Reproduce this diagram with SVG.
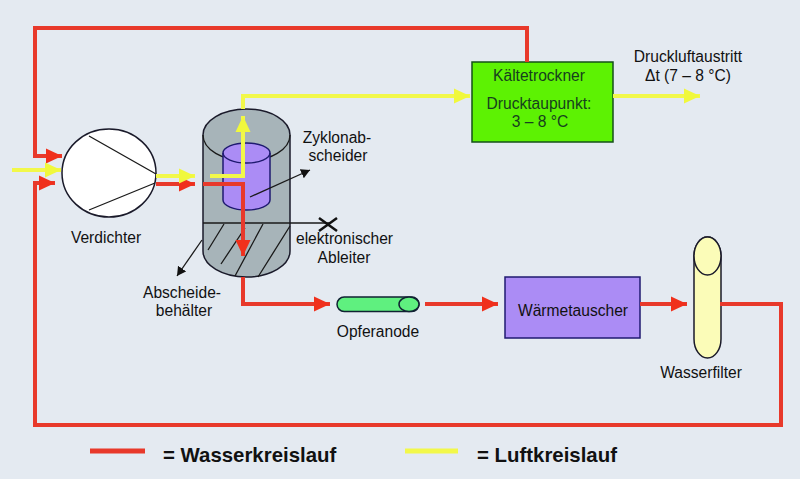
<svg xmlns="http://www.w3.org/2000/svg" width="800" height="479" viewBox="0 0 800 479">
<style>
text{font-family:"Liberation Sans",Arial,sans-serif;font-size:15.600px;fill:#111;text-anchor:middle}
.s{stroke:#1a1a2a;stroke-width:1.5}
.r{fill:none;stroke:#e8392b;stroke-width:4}
.y{fill:none;stroke:#f2f84a;stroke-width:4}
.t{fill:none;stroke:#1a1a1a;stroke-width:1.3}
.g{fill:#163f1e}
.b{font-size:20.400px;font-weight:bold;text-anchor:start}
</style>
<defs>
<marker id="ar" markerUnits="userSpaceOnUse" markerWidth="17" markerHeight="17" refX="16" refY="8.500" orient="auto"><path d="M0,1L16,8.500L0,16Z" fill="#f0301c"/></marker>
<marker id="ay" markerUnits="userSpaceOnUse" markerWidth="17" markerHeight="17" refX="16" refY="8.500" orient="auto"><path d="M0,1L16,8.500L0,16Z" fill="#f0f83c"/></marker>
<marker id="ak" markerUnits="userSpaceOnUse" markerWidth="10" markerHeight="10" refX="9" refY="5" orient="auto"><path d="M0,0L9,5L0,10Z" fill="#111"/></marker>
</defs>
<rect width="800" height="479" fill="#e4eaf1"/>
<g id="verdichter">
<ellipse cx="109" cy="173" rx="47" ry="44" fill="#fff" class="s"/>
<path d="M89,136L156,174M89,210L155,183" class="t"/>
<text x="106" y="243">Verdichter</text>
</g>
<g id="abscheider">
<path d="M203,135A43.500,26 0 0 1 290,135V251A43.500,26 0 0 1 203,251Z" fill="#a7b4b9" class="s"/>
<path d="M203,135A43.500,26 0 0 0 290,135" class="t"/>
<path d="M208,250L224,224M221,264L245,228M235,276L263,224M258,277L290,226" class="t"/>
<path d="M203,223H330" class="t"/>
<path d="M319,218L337,231M319,231L337,218" fill="none" stroke="#111" stroke-width="2.500"/>
<text x="344.500" y="244">elektronischer</text>
<text x="344" y="263">Ableiter</text>
<text x="182" y="298">Abscheide-</text>
<text x="184" y="316">behälter</text>
<path d="M202,240L177,276" class="t" marker-end="url(#ak)"/>
</g>
<g id="zyklonabscheider">
<path d="M223,153A23.500,10 0 0 1 270,153V200A23.500,10 0 0 1 223,200Z" fill="#ab8cf5" stroke="#1f1a70" stroke-width="1.500"/>
<path d="M223,153A23.500,10 0 0 0 270,153" fill="none" stroke="#1f1a70" stroke-width="1.500"/>
<text x="337" y="143">Zyklonab-</text>
<text x="338" y="161">scheider</text>
<path d="M250,197L310,170" class="t" marker-end="url(#ak)"/>
</g>
<g id="kaeltetrockner">
<rect x="472" y="62" width="141" height="80" fill="#5df203" stroke="#14501a" stroke-width="1.500"/>
<text x="539" y="81" class="g">Kältetrockner</text>
<text x="539" y="109" class="g">Drucktaupunkt:</text>
<text x="540" y="127" class="g">3 – 8 °C</text>
</g>
<g id="opferanode">
<rect x="337" y="297" width="82" height="14.500" rx="7.200" fill="#5ff07f" stroke="#123" stroke-width="1.500"/>
<ellipse cx="409" cy="304.200" rx="10" ry="7.200" fill="#5ff07f" stroke="#123" stroke-width="1.500"/>
<text x="378" y="337">Opferanode</text>
</g>
<g id="waermetauscher">
<rect x="505" y="277" width="135" height="61" fill="#ab8cf5" stroke="#1f1a70" stroke-width="1.500"/>
<text x="573" y="316">Wärmetauscher</text>
</g>
<g id="wasserfilter">
<rect x="694" y="237" width="27" height="121" rx="13.500" ry="19" fill="#fbfcb8" class="s"/>
<ellipse cx="707.500" cy="256" rx="13.500" ry="19" fill="#fbfcb8" class="s"/>
<text x="701" y="378">Wasserfilter</text>
</g>
<g id="connectors">
<path class="r" d="M527,62V28H35V156H62" marker-end="url(#ar)"/>
<path class="r" d="M720,304H781V425H35V183H55" marker-end="url(#ar)"/>
<path class="r" d="M156,184H195" marker-end="url(#ar)"/>
<path class="r" d="M203,184H243V256" marker-end="url(#ar)"/>
<path class="r" d="M243,277V304H330" marker-end="url(#ar)"/>
<path class="r" d="M425,304H498" marker-end="url(#ar)"/>
<path class="r" d="M640,304H687" marker-end="url(#ar)"/>
<path class="y" d="M12,170H61" marker-end="url(#ay)"/>
<path class="y" d="M156,176H195" marker-end="url(#ay)"/>
<path class="y" d="M210,176H243V116" marker-end="url(#ay)"/>
<path class="y" d="M243,109V96H470" marker-end="url(#ay)"/>
<path class="y" d="M613,96H700" marker-end="url(#ay)"/>
</g>
<g id="druckluftaustritt">
<text x="688" y="62">Druckluftaustritt</text>
<text x="688" y="81">Δt (7 – 8 °C)</text>
</g>
<g id="legende">
<path d="M90,451H145" stroke="#e8392b" stroke-width="5" fill="none"/>
<text x="163" y="462" class="b">= Wasserkreislauf</text>
<path d="M405,451H458" stroke="#f2f84a" stroke-width="5" fill="none"/>
<text x="477" y="462" class="b">= Luftkreislauf</text>
</g>
</svg>
